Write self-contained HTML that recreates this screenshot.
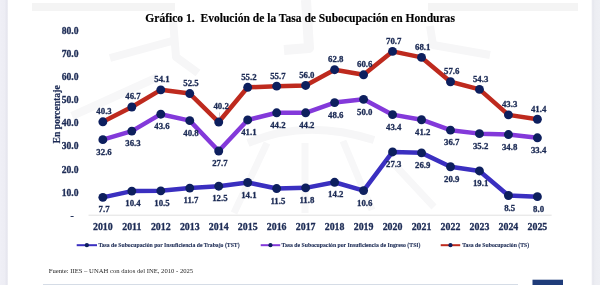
<!DOCTYPE html>
<html><head><meta charset="utf-8">
<style>
html,body{margin:0;padding:0;background:#fff;width:600px;height:285px;overflow:hidden;}
svg{position:absolute;left:0;top:0;filter:blur(0.35px);}
text{font-family:"Liberation Serif",serif;}
.l{font-size:9.6px;font-weight:bold;fill:#1C2B55;stroke:#1C2B55;stroke-width:0.3px;}
.dl{font-size:8.8px;font-weight:bold;fill:#1C2B55;stroke:#1C2B55;stroke-width:0.3px;}
.yr{font-size:9.9px;font-weight:bold;fill:#1C2B55;stroke:#1C2B55;stroke-width:0.3px;}
.ax{font-size:9.7px;font-weight:bold;fill:#1C2B55;stroke:#1C2B55;stroke-width:0.2px;}
.t{font-size:11.55px;font-weight:bold;fill:#000;stroke:#000;stroke-width:0.15px;}
.lg{font-size:6.3px;font-weight:bold;fill:#1C2B55;stroke:#1C2B55;stroke-width:0.1px;}
.f{font-size:7.1px;fill:#262626;}
</style></head><body>
<svg width="600" height="285" viewBox="0 0 600 285">
<defs>
<linearGradient id="gl" x1="0" x2="1" y1="0" y2="0"><stop offset="0" stop-color="#EFEFF6"/><stop offset="0.6" stop-color="#EDEDF4"/><stop offset="0.85" stop-color="#E5E5EE"/><stop offset="1" stop-color="#F2F2F6"/></linearGradient>
<linearGradient id="gr" x1="0" x2="1" y1="0" y2="0"><stop offset="0" stop-color="#F1F1F5"/><stop offset="0.15" stop-color="#E6E7EE"/><stop offset="0.4" stop-color="#ECEDF2"/><stop offset="1" stop-color="#EEEFF4"/></linearGradient>
</defs>
<rect x="0" y="0" width="8" height="285" fill="url(#gl)"/>
<rect x="591.6" y="0" width="8.4" height="285" fill="url(#gr)"/>
<rect x="32" y="3" width="143" height="8" fill="#F4F4F4"/>
<rect x="428" y="3" width="150" height="8" fill="#F4F4F4"/>
<g fill="none" stroke="#F6F6F7" stroke-width="8" stroke-linejoin="round">
<path d="M306,0 L309,48 L284,50" stroke-width="10"/>
<path d="M110,58 L172,41 M173,20 L176,57 L198,73"/>
<path d="M72,116 L158,77" stroke="#F7F7F8"/>
<path d="M430,26 L433,45 L490,55"/>
<path d="M248,143 Q305,118 374,140"/>
<path d="M267,143 L234,213 M305,143 L305,213 M343,141 L372,210 M393,163 L434,207" stroke="#F7F7F8" stroke-width="7"/>
</g>
<rect x="43" y="284" width="475" height="1" fill="#D5DCE6"/>
<rect x="532.5" y="279.7" width="30.5" height="5.3" fill="#1F3C7A"/>
<line x1="88.5" y1="215.2" x2="551.6" y2="215.2" stroke="#D9D9D9" stroke-width="0.8"/>
<polyline points="102.85,197.34 131.82,191.09 160.79,190.86 189.76,188.08 218.73,186.22 247.70,182.52 276.67,188.54 305.64,187.84 334.61,182.28 363.58,190.62 392.55,151.94 421.52,152.86 450.49,166.76 479.46,170.93 508.43,195.49 537.40,196.65" fill="none" stroke="#3A2FC0" stroke-width="4.5" stroke-linejoin="round"/>
<circle cx="102.85" cy="197.34" r="4.45" fill="#0D1F5E"/>
<circle cx="131.82" cy="191.09" r="4.45" fill="#0D1F5E"/>
<circle cx="160.79" cy="190.86" r="4.45" fill="#0D1F5E"/>
<circle cx="189.76" cy="188.08" r="4.45" fill="#0D1F5E"/>
<circle cx="218.73" cy="186.22" r="4.45" fill="#0D1F5E"/>
<circle cx="247.70" cy="182.52" r="4.45" fill="#0D1F5E"/>
<circle cx="276.67" cy="188.54" r="4.45" fill="#0D1F5E"/>
<circle cx="305.64" cy="187.84" r="4.45" fill="#0D1F5E"/>
<circle cx="334.61" cy="182.28" r="4.45" fill="#0D1F5E"/>
<circle cx="363.58" cy="190.62" r="4.45" fill="#0D1F5E"/>
<circle cx="392.55" cy="151.94" r="4.45" fill="#0D1F5E"/>
<circle cx="421.52" cy="152.86" r="4.45" fill="#0D1F5E"/>
<circle cx="450.49" cy="166.76" r="4.45" fill="#0D1F5E"/>
<circle cx="479.46" cy="170.93" r="4.45" fill="#0D1F5E"/>
<circle cx="508.43" cy="195.49" r="4.45" fill="#0D1F5E"/>
<circle cx="537.40" cy="196.65" r="4.45" fill="#0D1F5E"/>
<text x="104.05" y="212.49" text-anchor="middle" class="dl">7.7</text>
<text x="133.02" y="206.24" text-anchor="middle" class="dl">10.4</text>
<text x="161.99" y="206.01" text-anchor="middle" class="dl">10.5</text>
<text x="190.96" y="203.23" text-anchor="middle" class="dl">11.7</text>
<text x="219.93" y="201.37" text-anchor="middle" class="dl">12.5</text>
<text x="248.90" y="197.67" text-anchor="middle" class="dl">14.1</text>
<text x="277.87" y="203.69" text-anchor="middle" class="dl">11.5</text>
<text x="306.84" y="202.99" text-anchor="middle" class="dl">11.8</text>
<text x="335.81" y="197.43" text-anchor="middle" class="dl">14.2</text>
<text x="364.78" y="205.77" text-anchor="middle" class="dl">10.6</text>
<text x="393.75" y="167.09" text-anchor="middle" class="dl">27.3</text>
<text x="422.72" y="168.01" text-anchor="middle" class="dl">26.9</text>
<text x="451.69" y="181.91" text-anchor="middle" class="dl">20.9</text>
<text x="480.66" y="186.08" text-anchor="middle" class="dl">19.1</text>
<text x="509.63" y="210.64" text-anchor="middle" class="dl">8.5</text>
<text x="538.60" y="211.80" text-anchor="middle" class="dl">8.0</text>
<polyline points="102.85,139.66 131.82,131.09 160.79,114.18 189.76,120.66 218.73,151.01 247.70,119.97 276.67,112.79 305.64,112.79 334.61,102.59 363.58,99.35 392.55,114.64 421.52,119.74 450.49,130.16 479.46,133.64 508.43,134.56 537.40,137.81" fill="none" stroke="#8339DA" stroke-width="4.5" stroke-linejoin="round"/>
<circle cx="102.85" cy="139.66" r="4.45" fill="#0D1F5E"/>
<circle cx="131.82" cy="131.09" r="4.45" fill="#0D1F5E"/>
<circle cx="160.79" cy="114.18" r="4.45" fill="#0D1F5E"/>
<circle cx="189.76" cy="120.66" r="4.45" fill="#0D1F5E"/>
<circle cx="218.73" cy="151.01" r="4.45" fill="#0D1F5E"/>
<circle cx="247.70" cy="119.97" r="4.45" fill="#0D1F5E"/>
<circle cx="276.67" cy="112.79" r="4.45" fill="#0D1F5E"/>
<circle cx="305.64" cy="112.79" r="4.45" fill="#0D1F5E"/>
<circle cx="334.61" cy="102.59" r="4.45" fill="#0D1F5E"/>
<circle cx="363.58" cy="99.35" r="4.45" fill="#0D1F5E"/>
<circle cx="392.55" cy="114.64" r="4.45" fill="#0D1F5E"/>
<circle cx="421.52" cy="119.74" r="4.45" fill="#0D1F5E"/>
<circle cx="450.49" cy="130.16" r="4.45" fill="#0D1F5E"/>
<circle cx="479.46" cy="133.64" r="4.45" fill="#0D1F5E"/>
<circle cx="508.43" cy="134.56" r="4.45" fill="#0D1F5E"/>
<circle cx="537.40" cy="137.81" r="4.45" fill="#0D1F5E"/>
<text x="104.05" y="154.81" text-anchor="middle" class="dl">32.6</text>
<text x="133.02" y="146.24" text-anchor="middle" class="dl">36.3</text>
<text x="161.99" y="129.33" text-anchor="middle" class="dl">43.6</text>
<text x="190.96" y="135.81" text-anchor="middle" class="dl">40.8</text>
<text x="219.93" y="166.16" text-anchor="middle" class="dl">27.7</text>
<text x="248.90" y="135.12" text-anchor="middle" class="dl">41.1</text>
<text x="277.87" y="127.94" text-anchor="middle" class="dl">44.2</text>
<text x="306.84" y="127.94" text-anchor="middle" class="dl">44.2</text>
<text x="335.81" y="117.74" text-anchor="middle" class="dl">48.6</text>
<text x="364.78" y="114.50" text-anchor="middle" class="dl">50.0</text>
<text x="393.75" y="129.79" text-anchor="middle" class="dl">43.4</text>
<text x="422.72" y="134.89" text-anchor="middle" class="dl">41.2</text>
<text x="451.69" y="145.31" text-anchor="middle" class="dl">36.7</text>
<text x="480.66" y="148.79" text-anchor="middle" class="dl">35.2</text>
<text x="509.63" y="149.71" text-anchor="middle" class="dl">34.8</text>
<text x="538.60" y="152.96" text-anchor="middle" class="dl">33.4</text>
<polyline points="102.85,121.82 131.82,106.99 160.79,89.85 189.76,93.56 218.73,122.05 247.70,87.30 276.67,86.15 305.64,85.45 334.61,69.70 363.58,74.79 392.55,51.40 421.52,57.42 450.49,81.74 479.46,89.39 508.43,114.87 537.40,119.27" fill="none" stroke="#BE2A1E" stroke-width="4.5" stroke-linejoin="round"/>
<circle cx="102.85" cy="121.82" r="4.45" fill="#0D1F5E"/>
<circle cx="131.82" cy="106.99" r="4.45" fill="#0D1F5E"/>
<circle cx="160.79" cy="89.85" r="4.45" fill="#0D1F5E"/>
<circle cx="189.76" cy="93.56" r="4.45" fill="#0D1F5E"/>
<circle cx="218.73" cy="122.05" r="4.45" fill="#0D1F5E"/>
<circle cx="247.70" cy="87.30" r="4.45" fill="#0D1F5E"/>
<circle cx="276.67" cy="86.15" r="4.45" fill="#0D1F5E"/>
<circle cx="305.64" cy="85.45" r="4.45" fill="#0D1F5E"/>
<circle cx="334.61" cy="69.70" r="4.45" fill="#0D1F5E"/>
<circle cx="363.58" cy="74.79" r="4.45" fill="#0D1F5E"/>
<circle cx="392.55" cy="51.40" r="4.45" fill="#0D1F5E"/>
<circle cx="421.52" cy="57.42" r="4.45" fill="#0D1F5E"/>
<circle cx="450.49" cy="81.74" r="4.45" fill="#0D1F5E"/>
<circle cx="479.46" cy="89.39" r="4.45" fill="#0D1F5E"/>
<circle cx="508.43" cy="114.87" r="4.45" fill="#0D1F5E"/>
<circle cx="537.40" cy="119.27" r="4.45" fill="#0D1F5E"/>
<text x="104.05" y="114.17" text-anchor="middle" class="dl">40.3</text>
<text x="133.02" y="99.34" text-anchor="middle" class="dl">46.7</text>
<text x="161.99" y="82.20" text-anchor="middle" class="dl">54.1</text>
<text x="190.96" y="85.91" text-anchor="middle" class="dl">52.5</text>
<text x="221.13" y="108.50" text-anchor="middle" class="dl">40.2</text>
<text x="248.90" y="79.65" text-anchor="middle" class="dl">55.2</text>
<text x="277.87" y="78.50" text-anchor="middle" class="dl">55.7</text>
<text x="306.84" y="77.80" text-anchor="middle" class="dl">56.0</text>
<text x="335.81" y="62.05" text-anchor="middle" class="dl">62.8</text>
<text x="364.78" y="67.14" text-anchor="middle" class="dl">60.6</text>
<text x="393.75" y="43.75" text-anchor="middle" class="dl">70.7</text>
<text x="422.72" y="49.77" text-anchor="middle" class="dl">68.1</text>
<text x="451.69" y="74.09" text-anchor="middle" class="dl">57.6</text>
<text x="480.66" y="81.74" text-anchor="middle" class="dl">54.3</text>
<text x="509.63" y="107.22" text-anchor="middle" class="dl">43.3</text>
<text x="538.60" y="111.62" text-anchor="middle" class="dl">41.4</text>
<line x1="219.53" y1="112.5" x2="219.53" y2="117" stroke="#B0B0B8" stroke-width="0.6"/>
<text x="78.5" y="195.81" text-anchor="end" class="l">10.0</text>
<text x="78.5" y="172.65" text-anchor="end" class="l">20.0</text>
<text x="78.5" y="149.48" text-anchor="end" class="l">30.0</text>
<text x="78.5" y="126.32" text-anchor="end" class="l">40.0</text>
<text x="78.5" y="103.15" text-anchor="end" class="l">50.0</text>
<text x="78.5" y="79.98" text-anchor="end" class="l">60.0</text>
<text x="78.5" y="56.82" text-anchor="end" class="l">70.0</text>
<text x="78.5" y="33.65" text-anchor="end" class="l">80.0</text>
<text x="72" y="218.58" text-anchor="middle" class="l">-</text>
<text x="102.85" y="230.3" text-anchor="middle" class="yr">2010</text>
<text x="131.82" y="230.3" text-anchor="middle" class="yr">2011</text>
<text x="160.79" y="230.3" text-anchor="middle" class="yr">2012</text>
<text x="189.76" y="230.3" text-anchor="middle" class="yr">2013</text>
<text x="218.73" y="230.3" text-anchor="middle" class="yr">2014</text>
<text x="247.70" y="230.3" text-anchor="middle" class="yr">2015</text>
<text x="276.67" y="230.3" text-anchor="middle" class="yr">2016</text>
<text x="305.64" y="230.3" text-anchor="middle" class="yr">2017</text>
<text x="334.61" y="230.3" text-anchor="middle" class="yr">2018</text>
<text x="363.58" y="230.3" text-anchor="middle" class="yr">2019</text>
<text x="392.55" y="230.3" text-anchor="middle" class="yr">2020</text>
<text x="421.52" y="230.3" text-anchor="middle" class="yr">2021</text>
<text x="450.49" y="230.3" text-anchor="middle" class="yr">2022</text>
<text x="479.46" y="230.3" text-anchor="middle" class="yr">2023</text>
<text x="508.43" y="230.3" text-anchor="middle" class="yr">2024</text>
<text x="537.40" y="230.3" text-anchor="middle" class="yr">2025</text>
<text transform="translate(59.6,114.4) rotate(-90)" text-anchor="middle" class="ax">En porcentaje</text>
<text x="145.3" y="21.5" class="t">Gráfico 1.&#160; Evolución de la Tasa de Subocupación en Honduras</text>
<line x1="76.7" y1="245.2" x2="97" y2="245.2" stroke="#3A2FC0" stroke-width="2.0"/>
<circle cx="86.85" cy="245.2" r="2.1" fill="#0D1F5E"/>
<text x="98.4" y="246.9" class="lg" textLength="141.2" lengthAdjust="spacingAndGlyphs">Tasa de Subocupación por Insuficiencia de Trabajo (TST)</text>
<line x1="260.7" y1="245.2" x2="280.2" y2="245.2" stroke="#8339DA" stroke-width="2.0"/>
<circle cx="270.45" cy="245.2" r="2.1" fill="#0D1F5E"/>
<text x="281.6" y="246.9" class="lg" textLength="138.9" lengthAdjust="spacingAndGlyphs">Tasa de Subocupación por Insuficiencia de Ingreso (TSI)</text>
<line x1="440.7" y1="245.2" x2="460.2" y2="245.2" stroke="#BE2A1E" stroke-width="2.0"/>
<circle cx="450.45" cy="245.2" r="2.1" fill="#0D1F5E"/>
<text x="462.3" y="246.9" class="lg" textLength="66.9" lengthAdjust="spacingAndGlyphs">Tasa de Subocupación (TS)</text>
<text x="48.7" y="273.3" class="f" textLength="144.5" lengthAdjust="spacingAndGlyphs">Fuente: IIES – UNAH con datos del INE, 2010 - 2025</text>
</svg>
</body></html>
